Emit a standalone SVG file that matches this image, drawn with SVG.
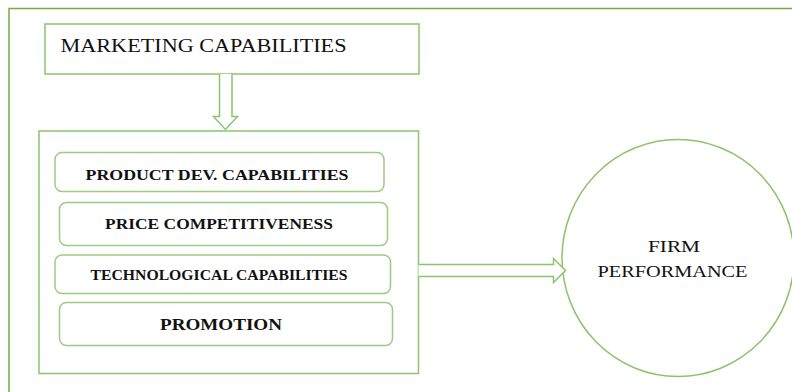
<svg xmlns="http://www.w3.org/2000/svg" width="792" height="392" viewBox="0 0 792 392">
<style>
.frame{fill:none;stroke:#70ad47;stroke-width:1.5}
.box{fill:#fff;stroke:#8cc46c;stroke-width:1.5}
.rbox{fill:#fff;stroke:#9ccc80;stroke-width:1.5}
.arrow{fill:#fff;stroke:#8cc46c;stroke-width:1.5;stroke-linejoin:miter}
.t{font-family:"Liberation Serif","Times New Roman",serif;fill:#111}
.b{font-weight:bold;text-anchor:middle}
</style>
<rect width="792" height="392" fill="#fff"/>
<rect class="frame" x="9" y="8.5" width="800" height="400"/>
<g id="marketing">
<rect class="box" x="45" y="24" width="374" height="50"/>
<text class="t" x="60.5" y="51.5" font-size="18.5" textLength="286" lengthAdjust="spacingAndGlyphs">MARKETING CAPABILITIES</text>
</g>
<g id="capabilities">
<rect class="box" x="39" y="131" width="379.5" height="242.5"/>
<g id="product">
<rect class="rbox" x="55" y="152.5" width="329" height="39" rx="7"/>
<text class="t b" x="217" y="180" font-size="14" textLength="263" lengthAdjust="spacingAndGlyphs">PRODUCT DEV. CAPABILITIES</text>
</g>
<g id="price">
<rect class="rbox" x="59.5" y="202.5" width="328" height="43" rx="7"/>
<text class="t b" x="219" y="228.5" font-size="14" textLength="228" lengthAdjust="spacingAndGlyphs">PRICE COMPETITIVENESS</text>
</g>
<g id="tech">
<rect class="rbox" x="55" y="255" width="335.5" height="38.5" rx="7"/>
<text class="t b" x="219" y="279.5" font-size="14" textLength="257" lengthAdjust="spacingAndGlyphs">TECHNOLOGICAL CAPABILITIES</text>
</g>
<g id="promotion">
<rect class="rbox" x="59.5" y="302.5" width="333" height="43" rx="7"/>
<text class="t b" x="221" y="329.5" font-size="17" textLength="122" lengthAdjust="spacingAndGlyphs">PROMOTION</text>
</g>
</g>
<g id="firm">
<ellipse class="box" cx="678" cy="258" rx="116" ry="118.5"/>
<text class="t" x="674" y="251.5" font-size="17" text-anchor="middle" textLength="52" lengthAdjust="spacingAndGlyphs">FIRM</text>
<text class="t" x="672.5" y="276.5" font-size="17" text-anchor="middle" textLength="150" lengthAdjust="spacingAndGlyphs">PERFORMANCE</text>
</g>
<g id="connectors">
<path class="arrow" d="M219.5,74 V116.5 H213.5 L225.5,129.5 L237.5,116.5 H232 V74"/>
<path class="arrow" d="M418.5,264.5 H553.5 V258.5 L565.5,270.5 L553.5,282.5 V276.5 H418.5"/>
</g>
</svg>
